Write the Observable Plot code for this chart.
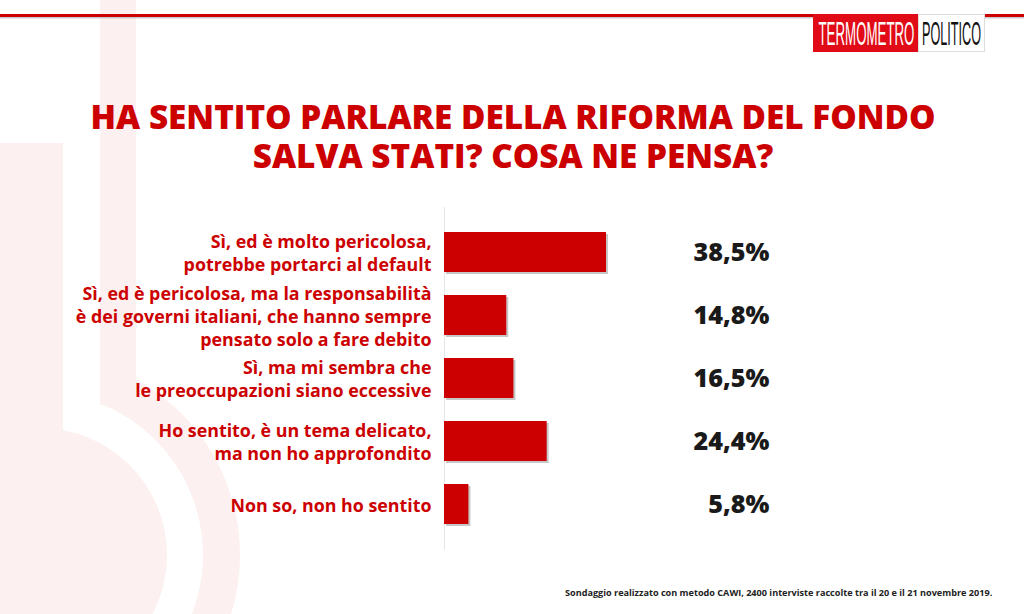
<!DOCTYPE html>
<html><head><meta charset="utf-8">
<script src="https://cdn.jsdelivr.net/npm/d3@7"></script>
<script src="https://cdn.jsdelivr.net/npm/@observablehq/plot@0.6"></script>
<style>
html,body{margin:0;padding:0;background:#fff;}
#wrap{position:relative;width:1024px;height:614px;overflow:hidden;font-family:"Open Sans",sans-serif;}
#wrap > svg{position:absolute;left:0;top:0;}
</style></head>
<body><div id="wrap"></div>
<script>
// ---- data ----
const categories = [
  "Sì, ed è molto pericolosa,\npotrebbe portarci al default",
  "Sì, ed è pericolosa, ma la responsabilità\nè dei governi italiani, che hanno sempre\npensato solo a fare debito",
  "Sì, ma mi sembra che\nle preoccupazioni siano eccessive",
  "Ho sentito, è un tema delicato,\nma non ho approfondito",
  "Non so, non ho sentito"
];
const values = [38.5, 14.8, 16.5, 24.4, 5.8];
const valueLabels = ["38,5%", "14,8%", "16,5%", "24,4%", "5,8%"];
const titleLines = ["HA SENTITO PARLARE DELLA RIFORMA DEL FONDO", "SALVA STATI? COSA NE PENSA?"];
const footnote = "Sondaggio realizzato con metodo CAWI, 2400 interviste raccolte tra il 20 e il 21 novembre 2019.";
const logoLeft = "TERMOMETRO";
const logoRight = "POLITICO";

// ---- helpers ----
const FONT = '"Open Sans"';
const LOGOFONT = '"Liberation Sans Narrow","Liberation Sans"';
const ctx = document.createElement("canvas").getContext("2d");
function fit(text, weight, target, family = FONT) {
  ctx.font = `${weight} 100px ${family}`;
  return 100 * target / ctx.measureText(text).width;
}
const wrap = document.getElementById("wrap");
const NS = "http://www.w3.org/2000/svg";

// ---- background watermark ----
const bg = document.createElementNS(NS, "svg");
bg.setAttribute("width", 1024); bg.setAttribute("height", 614);
bg.innerHTML = `
<defs><clipPath id="cr"><rect x="100" y="0" width="400" height="614"/></clipPath></defs>
<g fill="#fcf0f0">
  <rect x="100" y="0" width="36" height="405"/>
  <rect x="0" y="143" width="63" height="300"/>
  <circle cx="40" cy="555" r="127"/>
</g>
<circle cx="40" cy="555" r="181.5" fill="none" stroke="#fcf0f0" stroke-width="37" clip-path="url(#cr)"/>
`;
wrap.appendChild(bg);

// ---- header / title / footer ----
const fg = document.createElementNS(NS, "svg");
fg.setAttribute("width", 1024); fg.setAttribute("height", 614);
fg.style.pointerEvents = "none";
const tSize = fit(titleLines[0], 800, 845);
const fSize = fit(footnote, 700, 428);
const lS1 = fit(logoLeft, 400, 96, LOGOFONT);
const lS2 = fit(logoRight, 400, 59, LOGOFONT);
const capTarget = 24;
const sy1 = capTarget / (lS1 * 0.73), sy2 = capTarget / (lS2 * 0.73);
fg.innerHTML = `
<rect x="0" y="17" width="1024" height="1.5" fill="#999" opacity="0.5"/>
<rect x="0" y="14" width="1024" height="3" fill="#cc0000"/>
<rect x="813" y="14" width="105" height="38" fill="#e10b17"/>
<rect x="918.5" y="14.5" width="66" height="37" fill="#fff" stroke="#ddd"/>
<text transform="translate(818.5,45) scale(1,${sy1})" font-family='${LOGOFONT}' font-size="${lS1}" fill="#fff">${logoLeft}</text>
<text transform="translate(922,45) scale(1,${sy2})" font-family='${LOGOFONT}' font-size="${lS2}" fill="#111">${logoRight}</text>
<text text-anchor="middle" font-family='${FONT}' font-weight="800" font-size="${tSize}" fill="#cc0000"><tspan x="513" y="129">${titleLines[0]}</tspan><tspan x="513" y="168">${titleLines[1]}</tspan></text>
<text x="565" y="596" font-family='${FONT}' font-weight="700" font-size="${fSize}" fill="#222">${footnote}</text>
`;

// ---- chart ----
const data = categories.map((c, i) => ({cat: c, value: values[i], label: valueLabels[i]}));
const labelSize = fit("potrebbe portarci al default", 700, 248);
const valSize = fit("38,5%", 800, 76);
const k = 162 / 38.5;
const chart = Plot.plot({
  width: 1024, height: 614,
  marginTop: 207, marginBottom: 64, marginLeft: 444, marginRight: 255,
  x: {domain: [0, 100], range: [444, 444 + 100 * k], axis: null},
  y: {domain: categories, padding: 0.36, axis: null},
  style: {background: "transparent", fontFamily: FONT, overflow: "visible"},
  marks: [
    Plot.ruleX([0], {stroke: "#e6e6e6"}),
    Plot.barX(data, {x: "value", y: "cat", fill: "#444", fillOpacity: 0.3, dx: 2, dy: 2}),
    Plot.barX(data, {x: "value", y: "cat", fill: "#cc0000"}),
    Plot.text(data, {x: 0, y: "cat", text: "cat", textAnchor: "end", dx: -13, fill: "#cc0000",
      fontWeight: 700, fontSize: labelSize, lineHeight: 1.28}),
    Plot.text(data, {y: "cat", text: "label", frameAnchor: "right", textAnchor: "end",
      fill: "#1a1a1a", fontWeight: 800, fontSize: valSize})
  ]
});
wrap.appendChild(chart);
wrap.appendChild(fg);
</script>
</body></html>
